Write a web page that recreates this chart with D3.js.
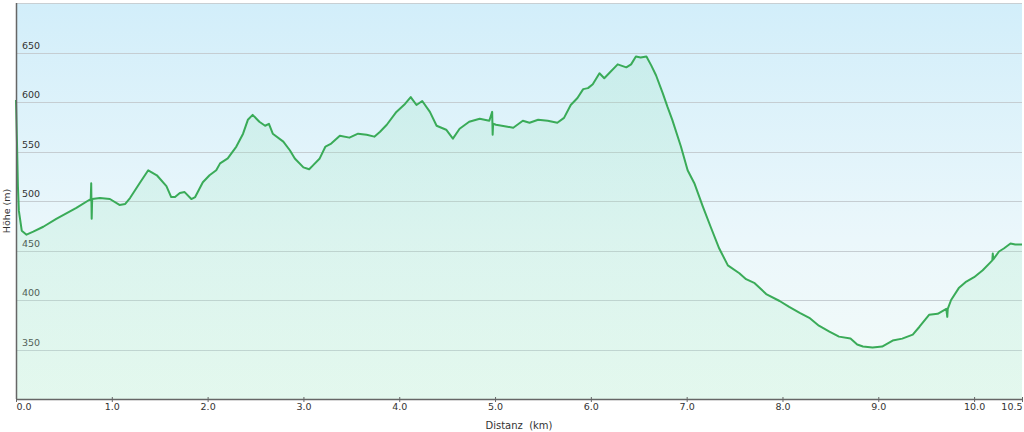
<!DOCTYPE html>
<html>
<head>
  <meta charset="utf-8">
  <title>Höhenprofil</title>
  <style>
    body { margin: 0; background: #fff; }
    svg { display: block; font-family: "DejaVu Sans", Verdana, sans-serif; }
  </style>
</head>
<body>
  <script src="https://d3js.org/d3.v7.min.js"></script>
  <script>
  // profile: distance (km) and height (m)
  var distKm = [0.00, 0.01, 0.02, 0.03, 0.06, 0.11, 0.18, 0.285, 0.42, 0.63, 0.78, 0.785, 0.79, 0.795,
    0.876, 0.98, 1.08, 1.14, 1.19, 1.29, 1.38, 1.47, 1.57, 1.62, 1.66, 1.71, 1.76, 1.83, 1.87,
    1.95, 2.02, 2.09, 2.13, 2.21, 2.30, 2.37, 2.42, 2.47, 2.54, 2.60, 2.64, 2.68, 2.79, 2.86,
    2.91, 3.00, 3.06, 3.10, 3.17, 3.23, 3.29, 3.38, 3.48, 3.57, 3.66, 3.74, 3.80, 3.87, 3.97,
    4.06, 4.12, 4.18, 4.24, 4.32, 4.39, 4.49, 4.56, 4.63, 4.73, 4.84, 4.94, 4.97, 4.975, 4.98,
    5.01, 5.13, 5.19, 5.29, 5.36, 5.45, 5.55, 5.65, 5.72, 5.79, 5.86, 5.92, 5.97, 6.02, 6.09,
    6.14, 6.19, 6.28, 6.37, 6.42, 6.47, 6.52, 6.58, 6.63, 6.68, 6.75, 6.80, 6.85, 6.94, 7.01,
    7.08, 7.17, 7.25, 7.34, 7.43, 7.55, 7.62, 7.71, 7.83, 7.97, 8.07, 8.18, 8.28, 8.38, 8.49,
    8.59, 8.71, 8.78, 8.84, 8.94, 9.04, 9.15, 9.25, 9.36, 9.43, 9.53, 9.62, 9.71, 9.72, 9.725,
    9.76, 9.84, 9.91, 10.00, 10.09, 10.16, 10.19, 10.195, 10.20, 10.26, 10.31, 10.38, 10.43, 10.50];
  var elevM = [602, 560, 515, 490, 470, 466, 469, 474, 482, 493, 502, 518, 482, 502,
    503, 502, 496, 497, 503, 518, 531, 526, 515, 504, 504, 508, 509, 502, 504,
    519, 526, 531, 538, 543, 555, 568, 582, 587, 580, 576, 578, 568, 560, 551,
    543, 534, 532, 536, 543, 555, 558, 566, 564, 568, 567, 565, 570, 577, 590,
    598, 605, 597, 601, 590, 576, 572, 563, 573, 580, 583, 581, 590, 567, 578,
    577, 575, 574, 581, 579, 582, 581, 579, 584, 597, 604, 613, 614, 618, 629,
    624, 629, 638, 635, 638, 646, 645, 646, 637, 627, 609, 595, 582, 555, 531,
    518, 494, 474, 452, 435, 427, 421, 417, 406, 399, 393, 387, 382, 374, 368,
    363, 361, 355, 353, 352, 353, 359, 361, 365, 373, 385, 386, 391, 383, 391,
    400, 412, 418, 423, 430, 437, 440, 447, 441, 449, 452, 457, 456, 456];
  var yTicks = [350, 400, 450, 500, 550, 600, 650];
  var xTicks = [0, 1, 2, 3, 4, 5, 6, 7, 8, 9, 10, 10.5];

  var W = 1024, H = 432;
  var margin = {top: 3, right: 2, bottom: 33, left: 16},
      width  = W - margin.left - margin.right,
      height = H - margin.top - margin.bottom;

  var data = distKm.map(function(d, i){ return {km: d, m: elevM[i]}; });

  var svg = d3.select("body").append("svg")
      .attr("width", W).attr("height", H);

  var defs = svg.append("defs");
  var bg = defs.append("linearGradient").attr("id", "bg")
      .attr("x1", 0).attr("y1", 0).attr("x2", 0).attr("y2", 1);
  bg.append("stop").attr("offset", "0%").attr("stop-color", "#d2eefa");
  bg.append("stop").attr("offset", "60%").attr("stop-color", "#ebf7fb");
  bg.append("stop").attr("offset", "100%").attr("stop-color", "#f3fbf8");

  var fill = defs.append("linearGradient").attr("id", "fill")
      .attr("x1", 0).attr("y1", 0).attr("x2", 0).attr("y2", 1);
  fill.append("stop").attr("offset", "0%").attr("stop-color", "#90e2b4").attr("stop-opacity", 0.2);
  fill.append("stop").attr("offset", "100%").attr("stop-color", "#b5efcf").attr("stop-opacity", 0.25);

  var chart = svg.append("g")
      .attr("transform", "translate(" + margin.left + "," + margin.top + ")");

  var x = d3.scaleLinear().domain([0, 10.5]).range([0, width]);
  var y = d3.scaleLinear().domain([300, 700]).range([height, 0]);

  chart.append("rect")
      .attr("width", width).attr("height", height)
      .attr("fill", "url(#bg)");

  // grid lines + labels inside the plot
  chart.selectAll(".grid")
      .data(yTicks)
      .enter().append("line")
      .attr("x1", 0).attr("x2", width)
      .attr("y1", function(d){ return Math.round(y(d)) + 0.5; })
      .attr("y2", function(d){ return Math.round(y(d)) + 0.5; })
      .attr("stroke", "#c5cdd2");

  chart.selectAll(".ylab")
      .data(yTicks)
      .enter().append("text")
      .attr("x", 6)
      .attr("y", function(d){ return y(d) - 4; })
      .attr("font-size", "9.5px")
      .attr("fill", "#333")
      .text(function(d){ return d; });

  var area = d3.area()
      .x(function(d){ return x(d.km); })
      .y0(height)
      .y1(function(d){ return y(d.m); });
  var line = d3.line()
      .x(function(d){ return x(d.km); })
      .y(function(d){ return y(d.m); });

  chart.append("path").datum(data)
      .attr("d", area)
      .attr("fill", "url(#fill)");
  chart.append("path").datum(data)
      .attr("d", line)
      .attr("fill", "none")
      .attr("stroke", "#3aab58")
      .attr("stroke-width", 2)
      .attr("stroke-linejoin", "round");

  // frame top
  chart.append("line")
      .attr("x1", 0).attr("x2", width).attr("y1", 0.5).attr("y2", 0.5)
      .attr("stroke", "#c8cfd3");

  // axes
  var xAxis = chart.append("g")
      .attr("transform", "translate(0," + height + ")")
      .call(d3.axisBottom(x).tickValues(xTicks).tickSizeInner(3).tickSizeOuter(0)
        .tickFormat(d3.format(".1f")));
  xAxis.select(".domain").attr("stroke", "#666").attr("stroke-width", 1.5);
  xAxis.selectAll(".tick line").attr("stroke", "#666").attr("y1", -2);
  xAxis.selectAll(".tick text")
      .attr("font-size", "9.5px").attr("fill", "#333").attr("dy", "0.55em")
      .attr("font-family", "DejaVu Sans, Verdana, sans-serif")
      .attr("text-anchor", function(d){ return d === 0 ? "start" : (d === 10.5 ? "end" : "middle"); });

  chart.append("line")
      .attr("x1", 0.5).attr("x2", 0.5).attr("y1", 0).attr("y2", height)
      .attr("stroke", "#666").attr("stroke-width", 1.5);

  svg.append("text")
      .attr("x", margin.left + width / 2)
      .attr("y", 429)
      .attr("text-anchor", "middle")
      .attr("font-size", "10px")
      .attr("fill", "#333")
      .attr("xml:space", "preserve")
      .text("Distanz  (km)");

  svg.append("text")
      .attr("transform", "translate(10,211) rotate(-90)")
      .attr("text-anchor", "middle")
      .attr("font-size", "9.5px")
      .attr("fill", "#333")
      .text("Höhe (m)");
  </script>
</body>
</html>
